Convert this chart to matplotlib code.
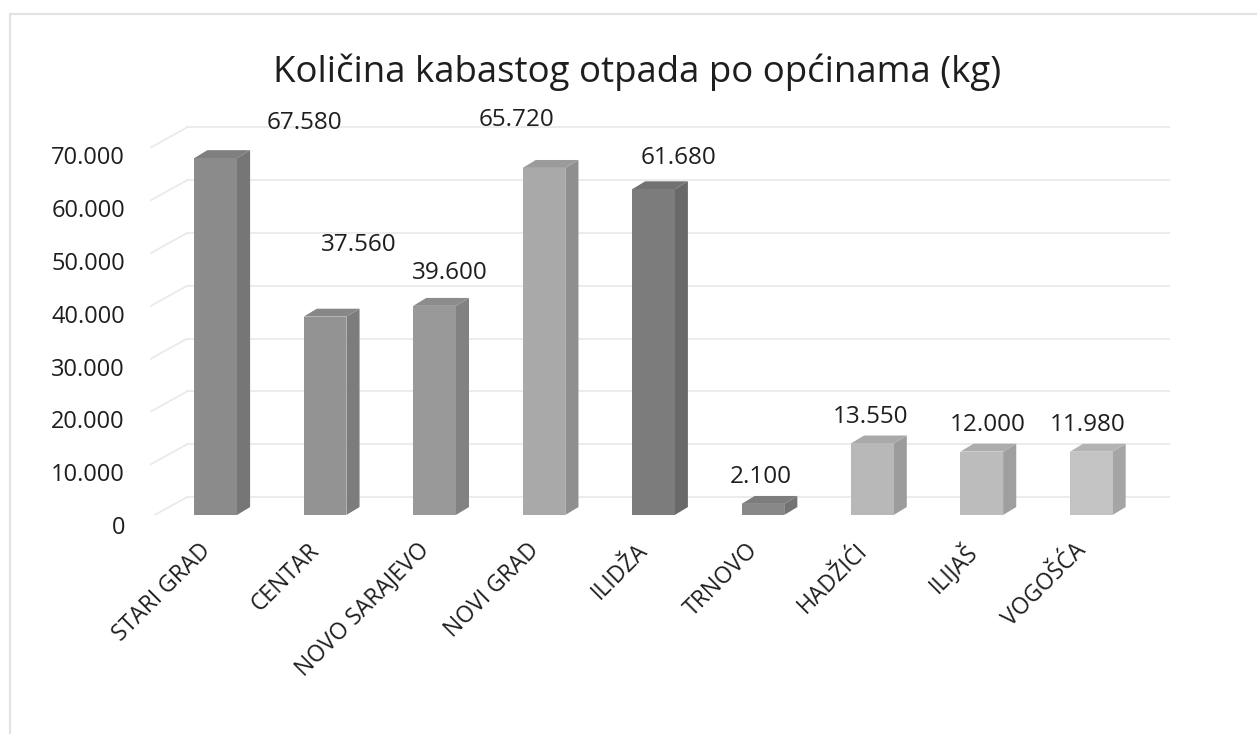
import numpy as np
import matplotlib.pyplot as plt
from matplotlib.patches import Polygon, Rectangle
from matplotlib.lines import Line2D
import matplotlib.transforms as mtransforms

plt.rcParams['font.family'] = ['Open Sans', 'DejaVu Sans']

opcine = ['STARI GRAD', 'CENTAR', 'NOVO SARAJEVO', 'NOVI GRAD', 'ILIDŽA',
          'TRNOVO', 'HADŽIĆI', 'ILIJAŠ', 'VOGOŠĆA']
kolicina = [67580, 37560, 39600, 65720, 61680, 2100, 13550, 12000, 11980]
oznake = ['67.580', '37.560', '39.600', '65.720', '61.680', '2.100', '13.550', '12.000', '11.980']
yticks = [0, 10000, 20000, 30000, 40000, 50000, 60000, 70000]
ylabels = ['0', '10.000', '20.000', '30.000', '40.000', '50.000', '60.000', '70.000']

# grey shades of the scanned bars
front = ['#8b8b8b', '#939393', '#999999', '#a9a9a9', '#7c7c7c', '#888888', '#b8b8b8', '#bcbcbc', '#c3c3c3']
# where Excel put the data labels, relative to each bar top
lab_dx = [0.81, 0.31, 0.14, -0.25, 0.23, -0.02, -0.02, 0.05, -0.03]
lab_dy = [6660, 13580, 6200, 9100, 5940, 5100, 5010, 5050, 5070]

def shade(c, f):
    r, g, b = [int(c[i:i + 2], 16) for i in (1, 3, 5)]
    return '#%02x%02x%02x' % (int(r * f), int(g * f), int(b * f))

fig = plt.figure(figsize=(12.57, 7.34), dpi=100)
ax = fig.add_axes([0.1193, 0.2984, 0.8115, 0.5756])
ax.set_xlim(-0.6, 8.72)
ax.set_ylim(0, 80000)
for s in ax.spines.values():
    s.set_visible(False)

# back wall + side wall grid lines
gc = '#e9e9e9'
for v in yticks:
    ax.plot([-0.6, -0.26], [v - 500, v + 3400], color=gc, lw=1.2, zorder=0)
    ax.plot([-0.26, 8.72], [v + 3400, v + 3400], color=gc, lw=1.2, zorder=0)

w = 0.39
ddx = 0.12
ddy = 1500
for i, (v, c) in enumerate(zip(kolicina, front)):
    x0 = i - w / 2
    x1 = i + w / 2
    ax.add_patch(Polygon([[x1, 0], [x1 + ddx, ddy], [x1 + ddx, v + ddy], [x1, v]],
                         closed=True, fc=shade(c, 0.85), ec='none', zorder=2))
    ax.add_patch(Polygon([[x0, v], [x1, v], [x1 + ddx, v + ddy], [x0 + ddx, v + ddy]],
                         closed=True, fc=shade(c, 0.92), ec='none', zorder=2))
    ax.add_patch(Rectangle((x0, 0), w, v, fc=c, ec='none', zorder=3))
    ax.text(i + lab_dx[i], v + lab_dy[i], oznake[i], ha='center', va='center',
            fontsize=17.5, color='#1e1e1e', zorder=4)

ax.set_yticks(yticks)
ax.set_yticklabels(ylabels, fontsize=17, color='#1e1e1e')
ax.tick_params(axis='y', length=0, pad=18)
off = mtransforms.ScaledTranslation(0, -10 / 100, fig.dpi_scale_trans)
for t in ax.get_yticklabels():
    t.set_transform(t.get_transform() + off)

ax.set_xticks(np.arange(len(opcine)) - 0.08)
ax.set_xticklabels(opcine, fontsize=16.5, color='#1e1e1e', rotation=45,
                   ha='right', va='center', rotation_mode='anchor')
ax.tick_params(axis='x', length=0, pad=23)

fig.text(0.507, 0.902, 'Količina kabastog otpada po općinama (kg)', ha='center',
         va='center', fontsize=26.4, color='#1e1e1e')

# faint frame of the scanned chart
fig.add_artist(Line2D([10 / 1257, 10 / 1257], [0, 1 - 14 / 734], transform=fig.transFigure, color='#e2e2e2', lw=1.5))
fig.add_artist(Line2D([10 / 1257, 1], [1 - 14 / 734, 1 - 14 / 734], transform=fig.transFigure, color='#e2e2e2', lw=1.5))

fig.savefig('out.png', dpi=100)
